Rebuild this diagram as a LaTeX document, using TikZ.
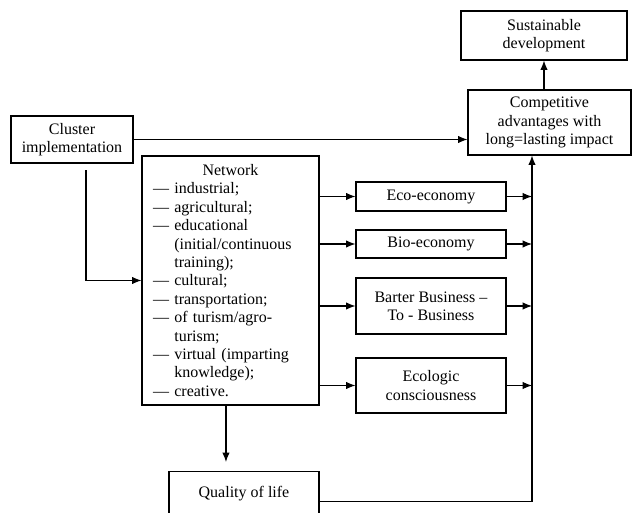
\documentclass[tikz,border=0pt]{standalone}
\usepackage{fontspec}
\setmainfont{Liberation Serif}
\usepackage{tikz}
\usetikzlibrary{arrows.meta,positioning,calc}

\begin{document}
\begin{tikzpicture}[x=0.75pt,y=-0.75pt,
  box/.style={draw,line width=0.8pt,align=center,inner sep=2pt,
    font=\fontsize{12pt}{13.8pt}\selectfont},
  arr/.style={line width=0.8pt,-{Latex[length=7pt,width=5.5pt]}}]
\clip (0,0) rectangle (633,513);
\node[box,minimum width=124.5pt,minimum height=36.75pt] (sust) at (544,35.5) {Sustainable\\development};
\node[box,minimum width=122.25pt,minimum height=48.75pt] (comp) at (549.5,122.5) {Competitive\\advantages with\\long=lasting impact};
\node[box,minimum width=91.5pt,minimum height=35.25pt] (clus) at (72,139.5) {Cluster\\implementation};
\node[box,minimum height=186.75pt,text width=116.25pt,inner xsep=8.25pt,align=left] (net) at (230.5,280.5) {\makebox[116.25pt]{Network}\\
— industrial;\\
— agricultural;\\
— educational\\
\hphantom{— }(initial/continuous\\
\hphantom{— }training);\\
— cultural;\\
— transportation;\\
— of turism/agro-\\
\hphantom{— }turism;\\
— virtual (imparting\\
\hphantom{— }knowledge);\\
— creative.};
\node[box,minimum width=112.5pt,minimum height=21.75pt] (eco) at (431,196.5) {Eco-economy};
\node[box,minimum width=112.5pt,minimum height=21pt] (bio) at (431,244) {Bio-economy};
\node[box,minimum width=112.5pt,minimum height=42pt] (bart) at (431,306) {Barter Business –\\To - Business};
\node[box,minimum width=112.5pt,minimum height=41.25pt] (ecol) at (431,385.5) {Ecologic\\consciousness};
\node[box,minimum width=112.5pt,minimum height=45pt,anchor=north] (qual) at (244,471) {Quality of life\\ \mbox{}};
\coordinate (bus) at (532,0);

\draw[arr] (comp.north -| sust.south) -- (sust.south);
\draw[arr] (clus.east) -- (clus.east -| comp.west);
\draw[arr] ([xshift=10.5pt,yshift=-5pt]clus.south) |- (net.west);
\draw[arr] (net.east |- eco) -- (eco.west);
\draw[arr] (net.east |- bio) -- (bio.west);
\draw[arr] (net.east |- bart) -- (bart.west);
\draw[arr] (net.east |- ecol) -- (ecol.west);
\draw[arr] (eco.east) -- (eco.east -| bus);
\draw[arr] (bio.east) -- (bio.east -| bus);
\draw[arr] (bart.east) -- (bart.east -| bus);
\draw[arr] (ecol.east) -- (ecol.east -| bus);
\draw[arr] (qual.east) -| (bus |- comp.south);
\draw[arr,shorten >=6.75pt] ([xshift=-3.4pt]net.south) -- ([xshift=-3.4pt]net.south |- qual.north);
\end{tikzpicture}
\end{document}
